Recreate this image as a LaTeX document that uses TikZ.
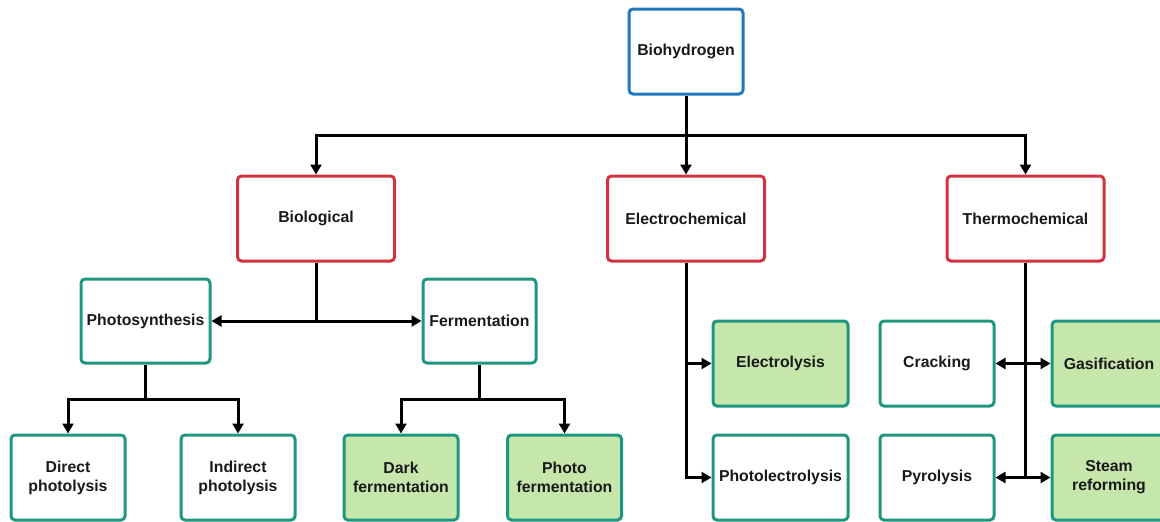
\documentclass[tikz,border=0pt]{standalone}
\usepackage{fontspec}
\setmainfont{Liberation Sans}
\usepackage{tikz}
\usetikzlibrary{arrows.meta}

\definecolor{rootblue}{HTML}{1F78BE}
\definecolor{mainred}{HTML}{D2323F}
\definecolor{subteal}{HTML}{1E9680}
\definecolor{leafgreen}{HTML}{C6E7AB}

\begin{document}
\begin{tikzpicture}[x=1pt, y=-1pt, line width=3pt,
    box/.style={draw, rounded corners=4pt, align=center, inner sep=2pt,
        minimum width=114pt, minimum height=85pt,
        font=\fontsize{15.8}{19}\selectfont\bfseries, text=black!90},
    rootbox/.style={box, draw=rootblue},
    mainbox/.style={box, draw=mainred, minimum width=157pt},
    subbox/.style={box, draw=subteal},
    leafbox/.style={subbox, fill=leafgreen},
    arr/.style={draw=black, -{Triangle[length=10pt, width=11pt]}}]

    \useasboundingbox (0, 0) rectangle (1160, 522);
    \clip (0, 0) rectangle (1160, 522);

    % draw top and main boxes
    \node[rootbox] (root) at (686, 51.5) {Biohydrogen};
    \node[mainbox] (biol) at (316, 218.5) {Biological};
    \node[mainbox] (elec) at (686, 218.5) {Electrochemical};
    \node[mainbox] (therm) at (1025.5, 218.5) {Thermochemical};

    % draw biological branch
    \node[subbox, minimum width=129pt, minimum height=84pt] (photo) at (145.5, 321) {Photosynthesis};
    \node[subbox, minimum width=113pt, minimum height=84pt] (ferm) at (479.5, 321) {Fermentation};
    \node[subbox] (direct) at (68, 477.5) {Direct\\photolysis};
    \node[subbox] (indirect) at (238, 477.5) {Indirect\\photolysis};
    \node[leafbox] (dark) at (401, 477.5) {Dark\\fermentation};
    \node[leafbox] (photoferm) at (564.5, 477.5) {Photo\\fermentation};

    % draw electrochemical branch
    \node[leafbox, minimum width=135pt] (lysis) at (780.5, 363.5) {Electrolysis};
    \node[subbox, minimum width=135pt] (photoel) at (780.5, 477.5) {Photolectrolysis};

    % draw thermochemical branch
    \node[subbox] (crack) at (937, 363.5) {Cracking};
    \node[subbox] (pyro) at (937, 477.5) {Pyrolysis};
    \node[leafbox] (gasif) at (1109, 363.5) {Gasification};
    \node[leafbox] (steam) at (1109, 477.5) {Steam\\reforming};

    % draw connectors
    \coordinate (top) at (686, 135);
    \draw (root.south) -- (top);
    \draw[arr] (top) -| (biol.north);
    \draw[arr] (top) -- (elec.north);
    \draw[arr] (top) -| (therm.north);

    \draw[arr] (biol.south) |- (photo.east);
    \draw[arr] (biol.south) |- (ferm.west);

    \coordinate (photojoin) at (145.5, 399);
    \draw (photo.south) -- (photojoin);
    \draw[arr] (photojoin) -| (direct.north);
    \draw[arr] (photojoin) -| (indirect.north);

    \coordinate (fermjoin) at (479.5, 399);
    \draw (ferm.south) -- (fermjoin);
    \draw[arr] (fermjoin) -| (dark.north);
    \draw[arr] (fermjoin) -| (photoferm.north);

    \draw[arr] (elec.south) |- (lysis.west);
    \draw[arr] (elec.south) |- (photoel.west);

    \draw[arr] (therm.south) |- (crack.east);
    \draw[arr] (therm.south) |- (gasif.west);
    \draw[arr] (therm.south) |- (pyro.east);
    \draw[arr] (therm.south) |- (steam.west);

\end{tikzpicture}
\end{document}
